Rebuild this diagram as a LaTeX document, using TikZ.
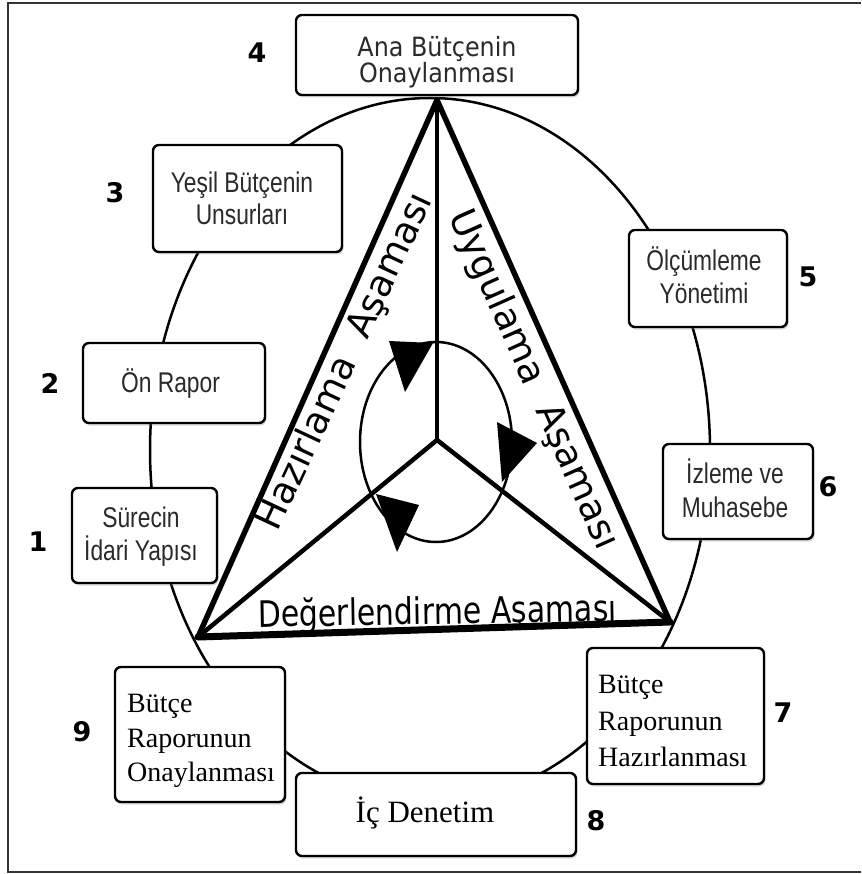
\documentclass[tikz,border=0pt]{standalone}
\usepackage{fontspec}
\setmainfont{Liberation Serif}
\newfontfamily\narrowsans[FakeStretch=0.8]{Liberation Sans}
\newfontfamily\verdanaish[FakeStretch=0.9]{DejaVu Sans}
\newfontfamily\phasefont{DejaVu Sans}
\newfontfamily\phasecond[FakeStretch=0.82]{DejaVu Sans}
\newfontfamily\numfont{DejaVu Sans}
\usetikzlibrary{shadows}
\definecolor{txtgray}{HTML}{2A2A2A}
\definecolor{framegray}{HTML}{333333}
\begin{document}
\begin{tikzpicture}[x=1pt,y=-1pt,
  box/.style={draw, line width=2.4pt, rounded corners=6pt, fill=white, inner sep=0pt,
    drop shadow={shadow xshift=1.5pt,shadow yshift=-2.5pt,opacity=0.3}},
  sanslbl/.style={anchor=base, inner sep=0pt, text=txtgray, font=\narrowsans\fontsize{28.5}{33}\selectfont},
  toplbl/.style={anchor=base, inner sep=0pt, text=txtgray, font=\verdanaish\fontsize{26.5}{27}\selectfont},
  seriflbl/.style={anchor=base west, inner sep=0pt, font=\fontsize{28}{36}\selectfont},
  num/.style={inner sep=0pt, font=\numfont\bfseries\fontsize{27}{27}\selectfont},
  phase/.style={inner sep=0pt, font=\phasefont\fontsize{37}{37}\selectfont},
  edge/.style={line width=5.5pt, line join=round, line cap=round},
  hub/.style={line width=4.5pt, line cap=round},
  arrowtri/.style={fill=black},
]
\useasboundingbox (0,0) rectangle (861,874);

% frame
\draw[line width=2pt, framegray] (861,3) -- (8,3) -- (8,872) -- (861,872);

% big cycle ellipse
\draw[line width=2.5pt] (430,450) ellipse [x radius=280, y radius=352];

% triangle vertices and hub
\coordinate (T) at (437,100);
\coordinate (L) at (198,637);
\coordinate (R) at (670,622);
\coordinate (C) at (437,440);

% central cycle
\draw[line width=2.5pt] (436,442) ellipse [x radius=76, y radius=100];
\fill[arrowtri] (389,341) -- (433,343) -- (405,392) -- cycle;
\fill[arrowtri] (497,422) -- (537,443) -- (502,482) -- cycle;
\fill[arrowtri] (376,494) -- (419,505) -- (397,552) -- cycle;

% hub lines
\draw[line width=4pt] (T) -- (C);
\draw[hub] (C) -- (L);
\draw[hub] (C) -- (R);

% triangle
\draw[edge] (L) -- (T) -- (R);
\draw[line width=7pt, line cap=round] (L) -- (R);

% phase labels
\node[phase, rotate=65] (hazir) at (346,362) {Hazırlama\hspace{0.35em} Aşaması};
\node[phase, rotate=-66] (uygul) at (533,380) {Uygulama\hspace{0.35em} Aşaması};
\node[inner sep=0pt, anchor=base, rotate=1, font=\phasecond\fontsize{36.5}{37}\selectfont] (degerl) at (437.5,624) {Değerlendirme Aşaması};

% boxes
\node[box, minimum width=282, minimum height=80] (b4) at (437,55) {};
\node[box, minimum width=189, minimum height=107] (b3) at (247.5,198.5) {};
\node[box, minimum width=182, minimum height=80] (b2) at (174,383) {};
\node[box, minimum width=145, minimum height=95] (b1) at (144.5,535.5) {};
\node[box, minimum width=158, minimum height=97] (b5) at (708,278.5) {};
\node[box, minimum width=150, minimum height=95] (b6) at (738,491.5) {};
\node[box, minimum width=177, minimum height=136] (b7) at (675.5,716) {};
\node[box, minimum width=280, minimum height=83] (b8) at (436,814.5) {};
\node[box, minimum width=170, minimum height=135] (b9) at (200,734.5) {};

% box texts
\node[toplbl] (t4a) at (437,57) {Ana Bütçenin};
\node[toplbl] (t4b) at (437,83) {Onaylanması};
\node[sanslbl] (t3a) at (242,193) {Yeşil Bütçenin};
\node[sanslbl] (t3b) at (242,225) {Unsurları};
\node[sanslbl] (t2a) at (170.5,392) {Ön Rapor};
\node[sanslbl] (t1a) at (141,527) {Sürecin};
\node[sanslbl] (t1b) at (141,560) {İdari Yapısı};
\node[sanslbl] (t5a) at (704,270) {Ölçümleme};
\node[sanslbl] (t5b) at (704,303) {Yönetimi};
\node[sanslbl] (t6a) at (735,483) {İzleme ve};
\node[sanslbl] (t6b) at (735,517) {Muhasebe};
\node[seriflbl] (t7a) at (598,693) {Bütçe};
\node[seriflbl] (t7b) at (598,730) {Raporunun};
\node[seriflbl] (t7c) at (598,766) {Hazırlanması};
\node[seriflbl] (t9a) at (127,712) {Bütçe};
\node[seriflbl] (t9b) at (127,747) {Raporunun};
\node[seriflbl] (t9c) at (127,781) {Onaylanması};
\node[anchor=base, inner sep=0pt, font=\fontsize{31}{31}\selectfont] (t8a) at (425,822) {İç Denetim};

% numbers
\node[num] (n1) at (38,542) {1};
\node[num] (n2) at (50,383) {2};
\node[num] (n3) at (115,193) {3};
\node[num] (n4) at (257,53) {4};
\node[num] (n5) at (808,277) {5};
\node[num] (n6) at (828,487) {6};
\node[num] (n7) at (783,713) {7};
\node[num] (n8) at (596,821) {8};
\node[num] (n9) at (82,732) {9};
\end{tikzpicture}
\end{document}
